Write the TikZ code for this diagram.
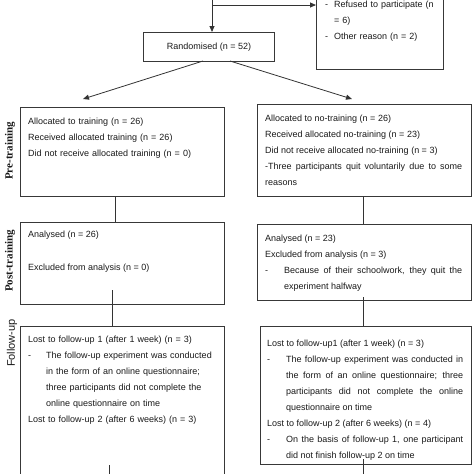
\documentclass[tikz,border=0pt]{standalone}
\usepackage{fontspec}
\setmainfont{Liberation Sans}
\newfontfamily\serifbf{Liberation Serif}
\usetikzlibrary{arrows.meta}
\setlength{\parindent}{0pt}
\newcommand{\hangdash}[1]{\hangindent=#1\hangafter=1\makebox[#1][l]{-}}
\begin{document}
\begin{tikzpicture}[x=1pt,y=-1pt,
  box/.style={draw=black!78, line width=0.8pt, inner sep=0pt, anchor=north west},
  txt/.style={inner sep=0pt, anchor=north west, font=\fontsize{9}{16}\selectfont, text=black!90},
  lnk/.style={draw=black!80, line width=0.8pt},
  arr/.style={lnk, -{Triangle[length=6pt,width=5pt]}},
  lab/.style={rotate=90, inner sep=0pt, text=black!90}]
\useasboundingbox (0,0) rectangle (474,474);
\clip (0,0) rectangle (474,474);
% boxes
\node[box, minimum width=127pt, minimum height=89pt] (excl) at (316,-20) {};
\node[box, minimum width=131pt, minimum height=29pt, font=\fontsize{9}{11}\selectfont, text=black!90] (rand) at (143,32) {Randomised (n = 52)};
\node[box, minimum width=204pt, minimum height=89pt] (pre1) at (20,107) {};
\node[box, minimum width=214pt, minimum height=92pt] (pre2) at (257,104) {};
\node[box, minimum width=204pt, minimum height=82pt] (post1) at (20,222) {};
\node[box, minimum width=214pt, minimum height=76pt] (post2) at (257,224) {};
\node[box, minimum width=204pt, minimum height=160pt] (fol1) at (20,326) {};
\node[box, minimum width=211pt, minimum height=138pt] (fol2) at (260,326) {};
% texts
\node[txt, text width=112pt, align=left] (excltxt) at (325,0.5)
  {\hangdash{9pt}Refused to participate (n\linebreak = 6)\par\hangdash{9pt}Other reason (n = 2)\par};
\node[txt, text width=190pt, align=left] (pre1txt) at (28,117.5)
  {Allocated to training (n = 26)\par Received allocated training (n = 26)\par Did not receive allocated training (n = 0)};
\node[txt, text width=197pt, align=justify] (pre2txt) at (265,114.5)
  {Allocated to no-training (n = 26)\par Received allocated no-training (n = 23)\par Did not receive allocated no-training (n = 3)\par -Three participants quit voluntarily due to some\linebreak reasons\par};
\node[txt] (post1a) at (28,230.5) {Analysed (n = 26)};
\node[txt] (post1b) at (28,263.5) {Excluded from analysis (n = 0)};
\node[txt, text width=197pt, align=justify] (post2txt) at (265,234.5)
  {Analysed (n = 23)\par Excluded from analysis (n = 3)\par \hangdash{19pt}Because of their schoolwork, they quit the\linebreak experiment halfway\par};
\node[txt, text width=190pt, align=left] (fol1txt) at (28,335.5)
  {Lost to follow-up 1 (after 1 week) (n = 3)\par
   \hangdash{18pt}The follow-up experiment was conducted\linebreak in the form of an online questionnaire;\linebreak three participants did not complete the\linebreak online questionnaire on time\par
   Lost to follow-up 2 (after 6 weeks) (n = 3)\par};
\node[txt, text width=196pt, align=justify] (fol2txt) at (267,339.5)
  {Lost to follow-up1 (after 1 week) (n = 3)\par
   \hangdash{19pt}The follow-up experiment was conducted in\linebreak the form of an online questionnaire; three\linebreak participants did not complete the online\linebreak questionnaire on time\par
   Lost to follow-up 2 (after 6 weeks) (n = 4)\par
   \hangdash{19pt}On the basis of follow-up 1, one participant\linebreak did not finish follow-up 2 on time\par};
% side labels
\node[lab, font=\serifbf\bfseries\fontsize{11}{13}\selectfont] (labpre) at (10,151) {Pre-training};
\node[lab, font=\serifbf\bfseries\fontsize{11}{13}\selectfont] (labpost) at (10,261) {Post-training};
\node[lab, font=\fontsize{11}{13}\selectfont] (labfol) at (12,343) {Follow-up};
% connectors
\coordinate (top) at (212,-5);
\coordinate (hj) at (212,5);
\coordinate (ra) at (203,61);
\coordinate (rb) at (230,61);
\coordinate (ta) at (83,99);
\coordinate (tb) at (352,99);
\coordinate (xl1) at (115,0);
\coordinate (xl2) at (112,290);
\coordinate (xr) at (363,0);
\coordinate (xr2) at (363,297);
\coordinate (xl3) at (109,465);
\coordinate (xr3) at (363,459);
\coordinate (bl) at (109,480);
\coordinate (br) at (363,480);
\draw[arr] (top) -- (rand.north -| top);
\draw[arr] (hj) -- (excl.west |- hj);
\draw[arr] (ra) -- (ta);
\draw[arr] (rb) -- (tb);
\draw[lnk] (pre1.south -| xl1) -- (post1.north -| xl1);
\draw[lnk] (pre2.south -| xr) -- (post2.north -| xr);
\draw[lnk] (xl2) -- (fol1.north -| xl2);
\draw[lnk] (xr2) -- (fol2.north -| xr2);
\draw[lnk] (xl3) -- (bl);
\draw[lnk] (xr3) -- (br);
\end{tikzpicture}
\end{document}
